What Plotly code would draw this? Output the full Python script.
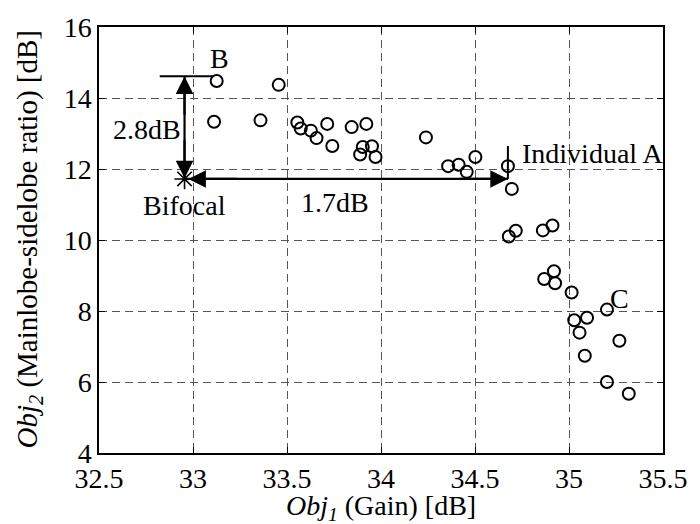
import plotly.graph_objects as go

# Pareto front of the optimised individuals: gain vs mainlobe-sidelobe ratio
gain_db = [33.126, 33.456, 33.112, 33.359, 33.555, 33.573, 33.627, 33.657, 33.714,
           33.741, 33.844, 33.922, 33.903, 33.889, 33.952, 33.971, 34.239, 34.357,
           34.413, 34.456, 34.502, 34.675, 34.696, 34.680, 34.717, 34.861, 34.912,
           34.868, 34.920, 34.926, 35.014, 35.028, 35.096, 35.056, 35.202, 35.084,
           35.268, 35.202, 35.318]
msr_db = [14.48, 14.37, 13.33, 13.37, 13.31, 13.14, 13.08, 12.87, 13.27,
          12.65, 13.18, 13.27, 12.62, 12.41, 12.64, 12.34, 12.89, 12.08,
          12.12, 11.92, 12.34, 12.08, 11.44, 10.10, 10.26, 10.27, 10.41,
          8.90, 9.12, 8.78, 8.52, 7.74, 7.81, 7.39, 8.04, 6.74,
          7.16, 6.00, 5.67]

# Reference bifocal design
bifocal_gain = 32.955
bifocal_msr = 11.72

# Individual A (same gain as the dominating point on the front)
indiv_a_gain = 34.675
indiv_a_msr = 12.08
# Best MSR level (individual B)
b_level = 14.61

x_ticks = [32.5, 33, 33.5, 34, 34.5, 35, 35.5]
y_ticks = [4, 6, 8, 10, 12, 14, 16]

FONT = "Liberation Serif, Times New Roman, serif"
BLACK = "#000000"
FS = 28

fig = go.Figure()

fig.add_trace(go.Scatter(
    x=gain_db, y=msr_db, mode="markers",
    marker=dict(symbol="circle-open", size=12, color=BLACK, line=dict(width=2, color=BLACK)),
    showlegend=False, hoverinfo="x+y",
))

fig.add_trace(go.Scatter(
    x=[bifocal_gain], y=[bifocal_msr], mode="markers",
    marker=dict(symbol="asterisk-open", size=17, color=BLACK, line=dict(width=1.6, color=BLACK)),
    showlegend=False,
))

# reference level line at B and marker tick at individual A
fig.add_shape(type="line", x0=32.823, x1=33.105, y0=b_level, y1=b_level,
              line=dict(color=BLACK, width=2))
fig.add_shape(type="line", x0=indiv_a_gain, x1=indiv_a_gain, y0=bifocal_msr, y1=12.65,
              line=dict(color=BLACK, width=2))

# shafts of the two double arrows
fig.add_shape(type="line", x0=bifocal_gain, x1=bifocal_gain, y0=bifocal_msr, y1=b_level,
              line=dict(color=BLACK, width=2.2))
fig.add_shape(type="line", x0=bifocal_gain, x1=indiv_a_gain, y0=bifocal_msr, y1=bifocal_msr,
              line=dict(color=BLACK, width=2.2))


def head(x_to, y_to, dx, dy):
    # arrow head only: short tail given in pixels
    fig.add_annotation(
        x=x_to, y=y_to, ax=dx, ay=dy, xref="x", yref="y",
        showarrow=True, arrowhead=2, arrowsize=1.6, arrowwidth=2.2, arrowcolor=BLACK, text="",
        standoff=0, startstandoff=0,
    )


head(bifocal_gain, b_level, 0, 40)
head(bifocal_gain, bifocal_msr + 0.02, 0, -40)
head(bifocal_gain + 0.02, bifocal_msr, 50, 0)
head(indiv_a_gain, bifocal_msr, -50, 0)


def label(x, y, text, xanchor="center"):
    fig.add_annotation(x=x, y=y, text=text, showarrow=False, xanchor=xanchor,
                       font=dict(family=FONT, size=FS, color=BLACK))


label(33.14, 15.12, "B")
label(32.755, 13.1, "2.8dB")
label(32.957, 10.96, "Bifocal")
label(33.757, 11.06, "1.7dB")
label(34.74, 12.45, "Individual A", xanchor="left")
label(35.27, 8.36, "C")

# axis titles
fig.add_annotation(xref="paper", yref="paper", x=0.5, y=-0.129, showarrow=False,
                   xanchor="center", yanchor="middle",
                   text="<i>Obj</i><sub><i>1</i></sub> (Gain) [dB]",
                   font=dict(family=FONT, size=FS, color=BLACK))
fig.add_annotation(xref="paper", yref="paper", x=-0.125, y=0.5, showarrow=False,
                   xanchor="center", yanchor="middle", textangle=-90,
                   text="<i>Obj</i><sub><i>2</i></sub> (Mainlobe-sidelobe ratio) [dB]",
                   font=dict(family=FONT, size=29, color=BLACK))

axis_common = dict(
    showline=True, linecolor=BLACK, linewidth=1.5, mirror="ticks",
    ticks="inside", ticklen=6, tickwidth=1, tickcolor=BLACK,
    showgrid=True, gridcolor="#555555", gridwidth=1, griddash="8px,5px",
    zeroline=False, tickfont=dict(family=FONT, size=FS, color=BLACK),
)

fig.update_xaxes(range=[32.5, 35.5], tickvals=x_ticks,
                 ticktext=[f"{v:g}" for v in x_ticks], **axis_common)
fig.update_yaxes(range=[4, 16], tickvals=y_ticks,
                 ticktext=[f"{v:g}" for v in y_ticks], **axis_common)

fig.update_layout(
    width=700, height=524,
    margin=dict(l=99, r=26, t=23, b=71),
    paper_bgcolor="white", plot_bgcolor="white",
    showlegend=False,
)

fig.write_html("out.html")
